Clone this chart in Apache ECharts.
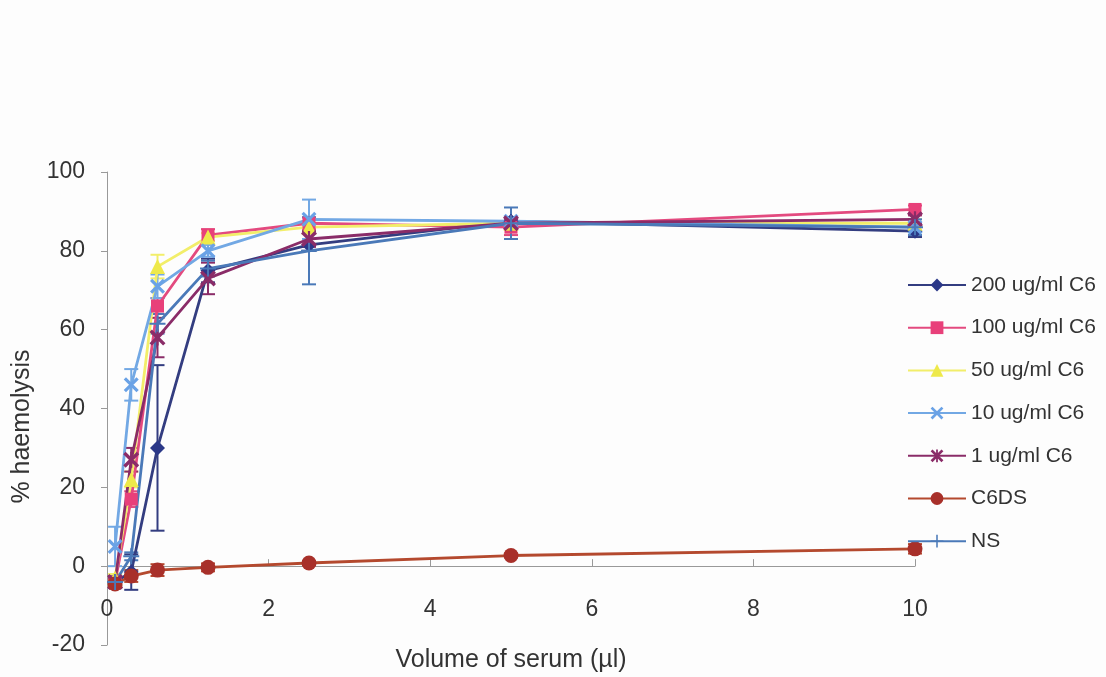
<!DOCTYPE html>
<html>
<head>
<meta charset="utf-8">
<title>% haemolysis vs volume of serum</title>
<script src="https://cdn.jsdelivr.net/npm/echarts@6/dist/echarts.min.js"></script>
<style>
  html, body { margin: 0; padding: 0; background: #fdfdfd; }
  #main { width: 1106px; height: 677px; }
</style>
</head>
<body>
<div id="main"></div>
<script>
// volume of serum (ul)
var volumes = [0.1, 0.3, 0.625, 1.25, 2.5, 5, 10];

// % haemolysis, with error bar half-widths
var c6_200 = [-4, -1.5, 30, 75, 81.5, 87.5, 85];
var err_200 = [1, 4.5, 21, 3, 1.5, 1, 1.5];
var c6_100 = [-4, 17, 66, 84, 87, 86, 90.5];
var err_100 = [1, 2, 2, 1.5, 1.5, 2, 1];
var c6_50 = [-3, 22, 76, 83.5, 86, 87, 87];
var err_50 = [1, 2, 3, 1, 1, 1, 1];
var c6_10 = [5, 46, 71, 80, 88, 87.5, 86];
var err_10 = [5, 4, 3, 1.5, 5, 1, 1];
var c6_1 = [-4, 27, 58, 73, 83, 87, 88];
var err_1 = [1, 3, 5, 4, 2, 1, 1];
var c6ds = [-4.5, -2.5, -1, -0.3, 0.8, 2.7, 4.4];
var err_ds = [1, 1.5, 1.5, 1, 0.5, 0.5, 1.2];
var ns = [-4, 2.5, 61.5, 75.5, 80, 87, 86];
var err_ns = [1.5, 1, 2.5, 2, 8.5, 4, 2];

var xTicks = [0, 2, 4, 6, 8, 10];
var yTicks = [-20, 0, 20, 40, 60, 80, 100];

var FONT = "'Liberation Sans', Arial, sans-serif";

// marker shapes
var X_PATH = 'path://M0,1.5L1.5,0L10,8.5L8.5,10Z M8.5,0L10,1.5L1.5,10L0,8.5Z';
var STAR_PATH = 'path://M0,1.5L1.5,0L10,8.5L8.5,10Z M8.5,0L10,1.5L1.5,10L0,8.5Z M4.3,0L5.7,0L5.7,10L4.3,10Z';
var PLUS_PATH = 'path://M4.4,0L5.6,0L5.6,10L4.4,10Z M0,4.4L10,4.4L10,5.6L0,5.6Z';

var defs = [
  { name: '200 ug/ml C6', y: c6_200, e: err_200, line: '#333d80', mark: '#2b3888', symbol: 'diamond', size: 15 },
  { name: '100 ug/ml C6', y: c6_100, e: err_100, line: '#e34a7f', mark: '#e8407a', symbol: 'rect', size: 13 },
  { name: '50 ug/ml C6', y: c6_50, e: err_50, line: '#f2ee6a', mark: '#eee94a', symbol: 'triangle', size: 15 },
  { name: '10 ug/ml C6', y: c6_10, e: err_10, line: '#72a8e4', mark: '#6aa2e6', symbol: X_PATH, size: 15 },
  { name: '1 ug/ml C6', y: c6_1, e: err_1, line: '#8a2c68', mark: '#8a2c68', symbol: STAR_PATH, size: 16 },
  { name: 'C6DS', y: c6ds, e: err_ds, line: '#b4492e', mark: '#a8302a', symbol: 'circle', size: 15 },
  { name: 'NS', y: ns, e: err_ns, line: '#4a79b8', mark: '#4a79b8', symbol: PLUS_PATH, size: 16 }
];

function errBar(color) {
  return function (params, api) {
    var x = api.value(0);
    var top = api.coord([x, api.value(2)]);
    var bot = api.coord([x, api.value(1)]);
    var w = 7;
    var st = { stroke: color, lineWidth: 2 };
    return {
      type: 'group',
      children: [
        { type: 'line', shape: { x1: top[0], y1: top[1], x2: bot[0], y2: bot[1] }, style: st },
        { type: 'line', shape: { x1: top[0] - w, y1: top[1], x2: top[0] + w, y2: top[1] }, style: st },
        { type: 'line', shape: { x1: bot[0] - w, y1: bot[1], x2: bot[0] + w, y2: bot[1] }, style: st }
      ]
    };
  };
}

var series = [];
defs.forEach(function (d) {
  series.push({
    name: d.name + ' err',
    type: 'custom',
    renderItem: errBar(d.line),
    data: volumes.map(function (v, i) { return [v, d.y[i] - d.e[i], d.y[i] + d.e[i]]; }),
    silent: true,
    z: 2
  });
});
defs.forEach(function (d) {
  series.push({
    name: d.name,
    type: 'line',
    data: volumes.map(function (v, i) { return [v, d.y[i]]; }),
    symbol: d.symbol,
    symbolSize: d.size,
    showAllSymbol: true,
    lineStyle: { color: d.line, width: 2.8 },
    itemStyle: { color: d.mark },
    emphasis: { disabled: true },
    z: 3
  });
});

var gridTop = 172, gridBottom = 32;
var plotH = 677 - gridTop - gridBottom;
// x axis sits on y = 0, i.e. 20 units above the bottom of the y range
var zeroOffset = plotH * (0 - yTicks[0]) / (yTicks[yTicks.length - 1] - yTicks[0]);

var chart = echarts.init(document.getElementById('main'));
chart.setOption({
  backgroundColor: '#fdfdfd',
  animation: false,
  textStyle: { fontFamily: FONT },
  grid: { left: 107, right: 191, top: gridTop, bottom: gridBottom, outerBoundsMode: 'none', containLabel: false },
  legend: {
    orient: 'vertical',
    left: 902,
    top: 269.5,
    itemWidth: 58,
    itemHeight: 16,
    itemGap: 21.7,
    data: defs.map(function (d) { return d.name; }),
    textStyle: { fontSize: 21, lineHeight: 21, color: '#333', fontFamily: FONT },
    selectedMode: false
  },
  xAxis: {
    type: 'value',
    min: xTicks[0],
    max: xTicks[xTicks.length - 1],
    interval: 2,
    offset: -zeroOffset,
    name: 'Volume of serum (\u00b5l)',
    nameLocation: 'middle',
    nameGap: 81,
    nameTextStyle: { fontSize: 25, color: '#333', fontFamily: FONT },
    axisLine: { onZero: false, lineStyle: { color: '#999', width: 1 } },
    axisTick: { inside: true, length: 7, lineStyle: { color: '#999' } },
    axisLabel: { margin: 32, fontSize: 23, color: '#333', fontFamily: FONT },
    splitLine: { show: false }
  },
  yAxis: {
    type: 'value',
    min: yTicks[0],
    max: yTicks[yTicks.length - 1],
    interval: 20,
    name: '% haemolysis',
    nameLocation: 'middle',
    nameGap: 72,
    nameTextStyle: { fontSize: 25, color: '#333', fontFamily: FONT, padding: [0, 36, 0, 0] },
    axisLine: { show: true, onZero: false, lineStyle: { color: '#999', width: 1 } },
    axisTick: { show: true, inside: false, length: 6, lineStyle: { color: '#999' } },
    axisLabel: { margin: 22, fontSize: 23, color: '#333', fontFamily: FONT },
    splitLine: { show: false }
  },
  series: series
});
</script>
</body>
</html>
